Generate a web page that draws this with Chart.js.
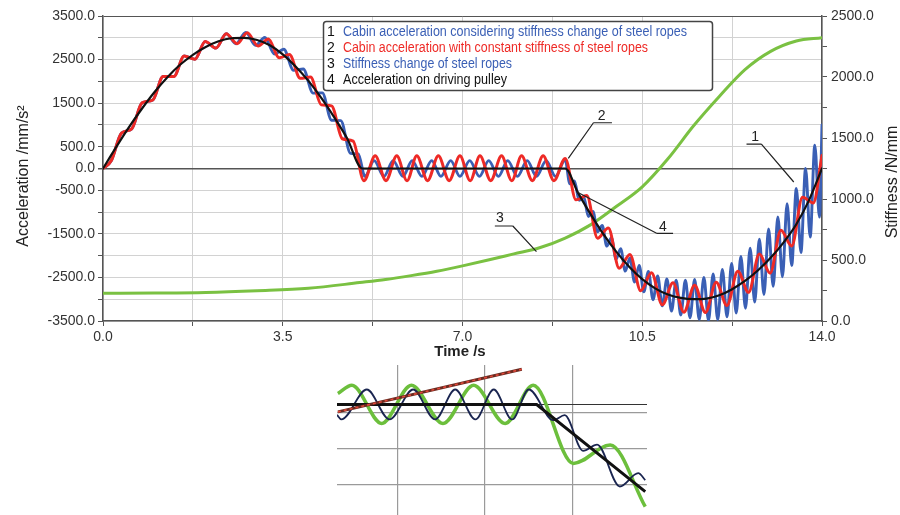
<!DOCTYPE html>
<html>
<head>
<meta charset="utf-8">
<script src="https://cdn.jsdelivr.net/npm/chart.js@4.4.1/dist/chart.umd.min.js"></script>
<style>
  html, body { margin: 0; padding: 0; background: #fff; }
  #wrap { position: relative; width: 900px; height: 515px; }
  #main { position: absolute; left: 0; top: 0; }
  #zoom { position: absolute; left: 337px; top: 365px; }
</style>
</head>
<body>
<div id="wrap">
  <canvas id="main" width="900" height="360"></canvas>
  <canvas id="zoom" width="310" height="150"></canvas>
</div>
<script>
const FONT = "'Liberation Sans', Arial, sans-serif";

// tick labels
const timeLabels = [0, 3.5, 7, 10.5, 14];
const accLabels = [3500, 2500, 1500, 500, 0, -500, -1500, -2500, -3500];
const stiffLabels = [0, 500, 1000, 1500, 2000, 2500];

// 4 - acceleration on driving pulley, mm/s2
const pulleyT = [0, 0.25, 0.5, 0.75, 1, 1.25, 1.5, 1.75, 2, 2.25, 2.5, 2.75, 3, 3.25, 3.5, 3.75, 4, 4.25, 4.5, 4.75, 5.05,
  9, 9.25, 9.5, 9.75, 10, 10.25, 10.5, 10.75, 11, 11.25, 11.5, 11.75, 12, 12.25, 12.5, 12.75, 13, 13.25, 13.5, 13.75, 14];
const pulleyA = [0, 480, 940, 1360, 1750, 2090, 2380, 2610, 2790, 2920, 2990, 3000, 2950, 2830, 2620, 2340, 2010, 1620, 1180, 700, 0,
  0, -560, -1060, -1520, -1920, -2260, -2540, -2750, -2890, -2970, -3000, -2985, -2910, -2770, -2580, -2340, -2050, -1700, -1280, -720, 0];

// 2 - cabin, constant rope stiffness
const constT = [0, 0.16, 0.36, 0.56, 0.76, 0.97, 1.17, 1.38, 1.58, 1.79, 1.99, 2.2, 2.4, 2.61, 2.81, 3.02, 3.22, 3.43, 3.63, 3.84, 4.04, 4.25, 4.45, 4.66, 4.87, 5.08,
  5.3, 5.51, 5.72, 5.92, 6.11, 6.32, 6.53, 6.74, 6.95, 7.15, 7.34, 7.55, 7.76, 7.96, 8.15, 8.36, 8.57, 8.78, 9,
  9.21, 9.42, 9.63, 9.84, 10.05, 10.26, 10.47, 10.68, 10.89, 11.1, 11.31, 11.52, 11.73, 11.94, 12.15, 12.36, 12.57, 12.78, 12.99, 13.2, 13.41, 13.62, 13.83, 14];
const constA = [0, 177, 812, 911, 1506, 1573, 2111, 2111, 2584, 2509, 2913, 2764, 3092, 2864, 3118, 2810, 2974, 2539, 2614, 2071, 2098, 1460, 1438, 683, 630, -280,
  290, -280, 290, -280, 290, -280, 290, -280, 290, -280, 290, -280, 290, -280, 290, -280, 290, -280, 230,
  -720, -620, -1599, -1364, -2288, -1971, -2806, -2391, -3128, -2622, -3297, -2679, -3306, -2608, -3146, -2356, -2843, -1965, -2402, -1420, -1781, -661, -790, 300];

// 1 - cabin, rope stiffness changing
const varT = [0, 0.16, 0.36, 0.56, 0.76, 0.97, 1.17, 1.38, 1.58, 1.79, 1.99, 2.2, 2.4, 2.59, 2.78, 2.97, 3.15, 3.34, 3.52, 3.71, 3.9, 4.09, 4.27, 4.45, 4.63, 4.82, 4.97,
  5.1, 5.28, 5.47, 5.65, 5.84, 6.02, 6.21, 6.4, 6.58, 6.77, 6.95, 7.14, 7.33, 7.51, 7.7, 7.88, 8.07, 8.26, 8.44, 8.63, 8.81, 9,
  9.09, 9.18, 9.27, 9.36, 9.45, 9.54, 9.63, 9.72, 9.81, 9.9, 9.99, 10.08, 10.17, 10.26, 10.35, 10.44, 10.53, 10.62, 10.71, 10.8,
  10.89, 10.98, 11.07, 11.16, 11.25, 11.34, 11.43, 11.52, 11.61, 11.7, 11.79, 11.88, 11.97, 12.06, 12.15, 12.24, 12.33, 12.42,
  12.51, 12.6, 12.69, 12.78, 12.87, 12.96, 13.05, 13.14, 13.23, 13.32, 13.41, 13.5, 13.59, 13.68, 13.77, 13.86, 13.95, 14];
const varA = [0, 177, 812, 911, 1506, 1573, 2111, 2111, 2584, 2509, 2913, 2764, 3092, 2864, 3124, 2826, 3008, 2624, 2738, 2255, 2282, 1730, 1735, 1108, 1100, 347, 337,
  -180, 180, -180, 180, -180, 180, -180, 180, -180, 180, -180, 180, -180, 180, -180, 180, -180, 180, -180, 180, -180, 200,
  -352, -283, -730, -645, -1100, -984, -1454, -1305, -1781, -1590, -2084, -1839, -2356, -2051, -2607, -2223, -2830, -2361, -3011, -2468,
  -3153, -2534, -3272, -2561, -3365, -2566, -3427, -2549, -3463, -2498, -3483, -2421, -3464, -2316, -3406, -2181, -3319, -2016,
  -3210, -1829, -3063, -1625, -2891, -1386, -2705, -1114, -2483, -807, -2226, -460, -1928, 3, -1572, 537, -1114, 1000];

// 3 - rope stiffness, N/mm
const stiffT = [0, 1, 2, 3, 4, 5, 5.5, 6, 6.5, 7, 7.5, 8, 8.5, 9, 9.5, 10, 10.5, 11, 11.5, 12, 12.5, 13, 13.5, 14];
const stiffK = [227, 229, 234, 248, 268, 315, 340, 372, 408, 452, 500, 550, 600, 680, 790, 940, 1100, 1330, 1600, 1840, 2060, 2210, 2295, 2322];

// detail view (own units)
const zGreenX = [0.32, 0.48, 0.82, 1.16, 1.52, 1.87, 2.23, 2.55, 3.01, 3.43, 3.83];
const zGreenY = [1.54, 1.77, 0.71, 1.77, 0.71, 1.77, 0.71, 1.77, -0.4, 0.11, -1.6];
const zNavyX = [0.31, 0.36, 0.65, 0.91, 1.18, 1.43, 1.66, 1.89, 2.1, 2.31, 2.5, 2.78, 2.91, 3.12, 3.28, 3.54, 3.75, 3.83];
const zNavyY = [0.95, 0.82, 1.65, 0.82, 1.65, 0.82, 1.65, 0.82, 1.65, 0.82, 1.65, 0.8, 0.94, -0.05, 0.12, -1.04, -0.67, -0.86];
const zBlackX = [0.31, 2.59, 3.83];
const zBlackY = [1.235, 1.235, -1.18];
const zStiffX = [0.32, 2.42];
const zStiffY = [1.03, 2.21];
const zAxisX = [0.31, 3.85];
const zAxisY = [1.235, 1.235];

const legendRows = [
  { num: '1', text: 'Cabin acceleration considering stiffness change of steel ropes', color: '#3a5fb5', width: 344 },
  { num: '2', text: 'Cabin acceleration with constant stiffness of steel ropes', color: '#ee2a26', width: 305 },
  { num: '3', text: 'Stiffness change of steel ropes', color: '#3a5fb5', width: 169 },
  { num: '4', text: 'Acceleration on driving pulley', color: '#111', width: 164 }
];

// callouts: label position, underline (t0, t1, a) and leader tip, in data units
const callouts = [
  { text: '1', at: [12.7, 730], bar: [12.53, 12.82, 560], tip: [13.45, -310], side: 'right' },
  { text: '2', at: [9.71, 1205], bar: [9.55, 9.91, 1050], tip: [9.06, 234], side: 'left' },
  { text: '3', at: [7.73, -1143], bar: [7.63, 7.98, -1320], tip: [8.44, -1909], side: 'right' },
  { text: '4', at: [10.9, -1343], bar: [10.78, 11.1, -1487], tip: [9.22, -532], side: 'left' }
];

function pts(xs, ys) {
  return xs.map((v, i) => ({ x: v, y: ys[i] }));
}

const overlay = {
  id: 'overlay',
  afterDraw(chart) {
    const ctx = chart.ctx;
    const x = chart.scales.x, y = chart.scales.y;
    ctx.save();

    // callouts
    ctx.strokeStyle = '#222';
    ctx.lineWidth = 1.2;
    ctx.fillStyle = '#222';
    ctx.font = '14px ' + FONT;
    ctx.textAlign = 'center';
    ctx.textBaseline = 'middle';
    callouts.forEach(c => {
      const x0 = x.getPixelForValue(c.bar[0]);
      const x1 = x.getPixelForValue(c.bar[1]);
      const yb = y.getPixelForValue(c.bar[2]);
      const sx = c.side === 'left' ? x0 : x1;
      ctx.beginPath();
      ctx.moveTo(x0, yb);
      ctx.lineTo(x1, yb);
      ctx.moveTo(sx, yb);
      ctx.lineTo(x.getPixelForValue(c.tip[0]), y.getPixelForValue(c.tip[1]));
      ctx.stroke();
      ctx.fillText(c.text, x.getPixelForValue(c.at[0]), y.getPixelForValue(c.at[1]));
    });

    // legend box
    ctx.beginPath();
    ctx.roundRect(323.5, 21.5, 389, 69, 3);
    ctx.fillStyle = '#fff';
    ctx.fill();
    ctx.strokeStyle = '#444';
    ctx.lineWidth = 1.5;
    ctx.stroke();
    ctx.font = '14px ' + FONT;
    ctx.textAlign = 'left';
    legendRows.forEach((r, i) => {
      const ly = 32 + i * 16;
      ctx.fillStyle = '#111';
      ctx.fillText(r.num, 327, ly);
      ctx.save();
      const w = ctx.measureText(r.text).width;
      ctx.translate(343, ly);
      ctx.scale(r.width / w, 1);
      ctx.fillStyle = r.color;
      ctx.fillText(r.text, 0, 0);
      ctx.restore();
    });

    // axis titles
    ctx.fillStyle = '#222';
    ctx.textAlign = 'center';
    ctx.textBaseline = 'alphabetic';
    ctx.font = '16px ' + FONT;
    ctx.save();
    ctx.translate(28, 176);
    ctx.rotate(-Math.PI / 2);
    ctx.fillText('Acceleration /mm/s\u00b2', 0, 0);
    ctx.restore();
    ctx.save();
    ctx.translate(897, 182);
    ctx.rotate(-Math.PI / 2);
    ctx.fillText('Stiffness /N/mm', 0, 0);
    ctx.restore();
    ctx.font = 'bold 15px ' + FONT;
    ctx.textBaseline = 'middle';
    ctx.fillText('Time /s', 460, 352);

    ctx.restore();
  }
};

const tickFont = { family: FONT, size: 14 };
const gridGrey = '#d2d2d2';
const dark = '#555';

new Chart(document.getElementById('main'), {
  type: 'line',
  data: {
    datasets: [
      { data: pts(pulleyT, pulleyA), borderColor: '#111', borderWidth: 2.2, yAxisID: 'y', order: 0 },
      { data: pts(constT, constA), borderColor: '#ee2a26', borderWidth: 3, yAxisID: 'y', order: 1 },
      { data: pts(varT, varA), borderColor: '#3a5fb5', borderWidth: 2.9, yAxisID: 'y', order: 2 },
      { data: pts(stiffT, stiffK), borderColor: '#7ac142', borderWidth: 3, yAxisID: 'y1', order: 3 }
    ]
  },
  options: {
    responsive: false,
    animation: false,
    layout: { padding: { top: 16, left: 0, right: 0, bottom: 0 } },
    plugins: { legend: { display: false }, tooltip: { enabled: false } },
    elements: {
      point: { radius: 0 },
      line: { cubicInterpolationMode: 'monotone', borderJoinStyle: 'round', borderCapStyle: 'round' }
    },
    scales: {
      x: {
        type: 'linear', min: 0, max: 14,
        ticks: {
          stepSize: 1.75, autoSkip: false, maxRotation: 0, padding: 3, font: tickFont, color: '#333',
          callback: v => timeLabels.includes(Math.round(v * 100) / 100) ? v.toFixed(1) : ''
        },
        grid: { color: gridGrey, lineWidth: 1, tickColor: dark, tickLength: 5 },
        border: { color: dark, width: 1.5 },
        afterFit(s) { s.height = 39; }
      },
      y: {
        position: 'left', min: -3500, max: 3500,
        ticks: {
          stepSize: 500, autoSkip: false, padding: 3, font: tickFont, color: '#333',
          callback: v => accLabels.includes(v) ? v.toFixed(1) : ''
        },
        grid: {
          color: c => (c.tick && (c.tick.value === 0 || c.tick.value === 3500)) ? dark : gridGrey,
          lineWidth: c => (c.tick && c.tick.value === 0) ? 1.5 : 1,
          tickColor: dark, tickLength: 5
        },
        border: { color: dark, width: 1.5 },
        afterFit(s) { s.width = 103; }
      },
      y1: {
        position: 'right', min: 0, max: 2500,
        ticks: {
          stepSize: 250, autoSkip: false, padding: 4, font: tickFont, color: '#333',
          callback: v => stiffLabels.includes(v) ? v.toFixed(1) : ''
        },
        grid: { drawOnChartArea: false, tickColor: dark, tickLength: 5 },
        border: { color: dark, width: 1.5 },
        afterFit(s) { s.width = 78; }
      }
    }
  },
  plugins: [overlay]
});

// detail view under the chart
const zGrid = c => (c.tick && Number.isInteger(c.tick.value)) ? '#9a9a9a' : 'rgba(0,0,0,0)';
new Chart(document.getElementById('zoom'), {
  type: 'line',
  data: {
    datasets: [
      { data: pts(zStiffX, zStiffY), borderColor: '#e0483a', borderWidth: 1.6, borderDash: [3, 3], order: 0 },
      { data: pts(zStiffX, zStiffY), borderColor: '#6b2a20', borderWidth: 3, order: 1 },
      { data: pts(zBlackX, zBlackY), borderColor: '#111', borderWidth: 3, tension: 0, order: 2 },
      { data: pts(zNavyX, zNavyY), borderColor: '#1a2550', borderWidth: 1.8, cubicInterpolationMode: 'monotone', order: 3 },
      { data: pts(zGreenX, zGreenY), borderColor: '#6cbf3c', borderWidth: 3.5, cubicInterpolationMode: 'monotone', order: 4 },
      { data: pts(zAxisX, zAxisY), borderColor: '#333', borderWidth: 1.2, tension: 0, order: 5 }
    ]
  },
  options: {
    responsive: false,
    animation: false,
    layout: { padding: 0 },
    plugins: { legend: { display: false }, tooltip: { enabled: false } },
    elements: { point: { radius: 0 } },
    scales: {
      x: {
        type: 'linear', min: 0.31, max: 3.85,
        ticks: { display: false, stepSize: 1 },
        border: { display: false },
        grid: { drawTicks: false, color: zGrid, lineWidth: 1.2 },
        afterFit(s) { s.height = 0; }
      },
      y: {
        min: -1.83, max: 2.33,
        ticks: { display: false, stepSize: 1 },
        border: { display: false },
        grid: { drawTicks: false, color: zGrid, lineWidth: 1.2 },
        afterFit(s) { s.width = 0; }
      }
    }
  }
});
</script>
</body>
</html>
